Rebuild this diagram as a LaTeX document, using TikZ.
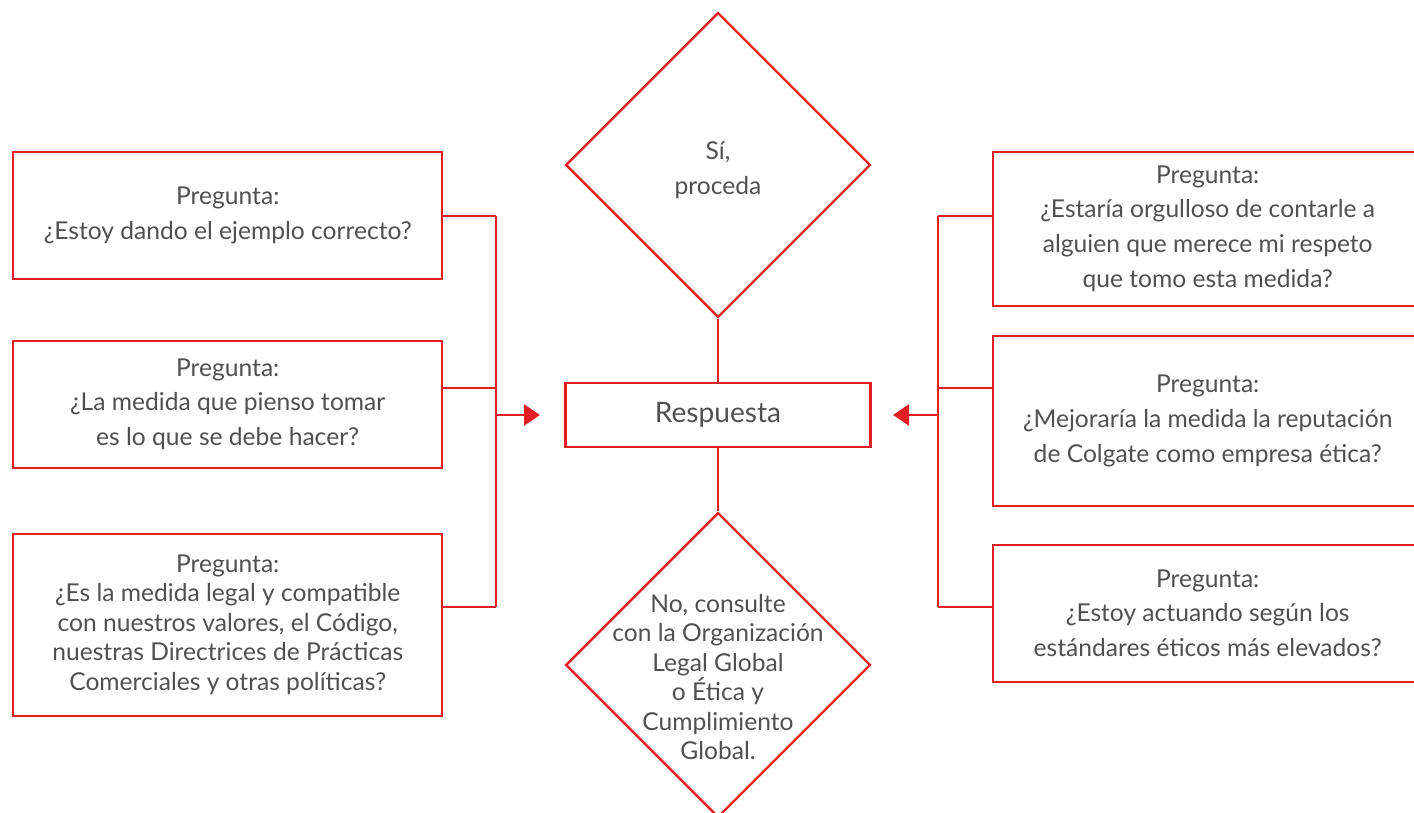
\documentclass[tikz,border=0pt]{standalone}
\usepackage{fontspec}
\setmainfont{Lato}
\usetikzlibrary{shapes.geometric,arrows.meta}
\definecolor{colred}{HTML}{E31E24}
\definecolor{txtgray}{HTML}{505050}

\begin{document}
\begin{tikzpicture}[
  qbox/.style={rectangle, draw=colred, line width=1.4pt, minimum width=8.58cm, anchor=south west, text=txtgray, align=center, font=\fontsize{14}{19.9}\selectfont},
  decision/.style={diamond, draw=colred, line width=1.4pt, minimum width=6.1cm, minimum height=6.1cm, aspect=1, inner sep=0pt},
  dtext/.style={text=txtgray, align=center, font=\fontsize{14}{#1}\selectfont},
  conn/.style={draw=colred, line width=1.4pt},
  arrowtip/.style={-{Triangle[length=0.32cm,width=0.42cm]}}
]
\clip (0,0) rectangle (28.28,-16.26);

% left questions
\node at (0.24,-5.60)[qbox, minimum height=2.54cm] (ql1) {Pregunta:\\¿Estoy dando el ejemplo correcto?};
\node at (0.24,-9.38)[qbox, minimum height=2.54cm] (ql2) {Pregunta:\\¿La medida que pienso tomar\\es lo que se debe hacer?};
\node at (0.24,-14.34)[qbox, minimum height=3.64cm, font=\fontsize{14}{16.8}\selectfont] (ql3) {Pregunta:\\¿Es la medida legal y compatible\\con nuestros valores, el Código,\\nuestras Directrices de Prácticas\\Comerciales y otras políticas?};

% right questions
\node at (19.84,-6.14)[qbox, minimum height=3.08cm] (qr1) {Pregunta:\\¿Estaría orgulloso de contarle a\\alguien que merece mi respeto\\que tomo esta medida?};
\node at (19.84,-10.14)[qbox, minimum height=3.40cm] (qr2) {Pregunta:\\¿Mejoraría la medida la reputación\\de Colgate como empresa ética?};
\node at (19.84,-13.66)[qbox, minimum height=2.74cm] (qr3) {Pregunta:\\¿Estoy actuando según los\\estándares éticos más elevados?};

% centre column
\node at (14.36,-8.30)[rectangle, draw=colred, line width=1.4pt, minimum width=6.1cm, minimum height=1.28cm, text=txtgray, font=\fontsize{16}{19}\selectfont] (resp) {Respuesta};
\node at (14.36,-3.30)[decision, label={[dtext=19.9, yshift=-0.1cm]center:Sí,\\proceda}] (yes) {};
\node at (14.36,-13.30)[decision, label={[dtext=16.8, yshift=-0.24cm]center:No, consulte\\con la Organización\\Legal Global\\o Ética y\\Cumplimiento\\Global.}] (no) {};

% buses
\coordinate (lbtop) at (9.92,-4.32);
\coordinate (lbmid) at (9.92,-7.76);
\coordinate (lbbot) at (9.92,-12.14);
\coordinate (rbtop) at (18.76,-4.32);
\coordinate (rbmid) at (18.76,-7.76);
\coordinate (rbbot) at (18.76,-12.14);

\draw[conn] (lbtop) -- (lbbot);
\draw[conn] (ql1.east |- lbtop) -- (lbtop);
\draw[conn] (ql2.east |- lbmid) -- (lbmid);
\draw[conn] (ql3.east |- lbbot) -- (lbbot);
\draw[conn, arrowtip, fill=colred] (lbtop |- resp) -- (10.80,-8.30);

\draw[conn] (rbtop) -- (rbbot);
\draw[conn] (qr1.west |- rbtop) -- (rbtop);
\draw[conn] (qr2.west |- rbmid) -- (rbmid);
\draw[conn] (qr3.west |- rbbot) -- (rbbot);
\draw[conn, arrowtip, fill=colred] (rbtop |- resp) -- (17.86,-8.30);

\draw[conn] (yes.south) -- (resp.north);
\draw[conn] (resp.south) -- (no.north);

\end{tikzpicture}
\end{document}
